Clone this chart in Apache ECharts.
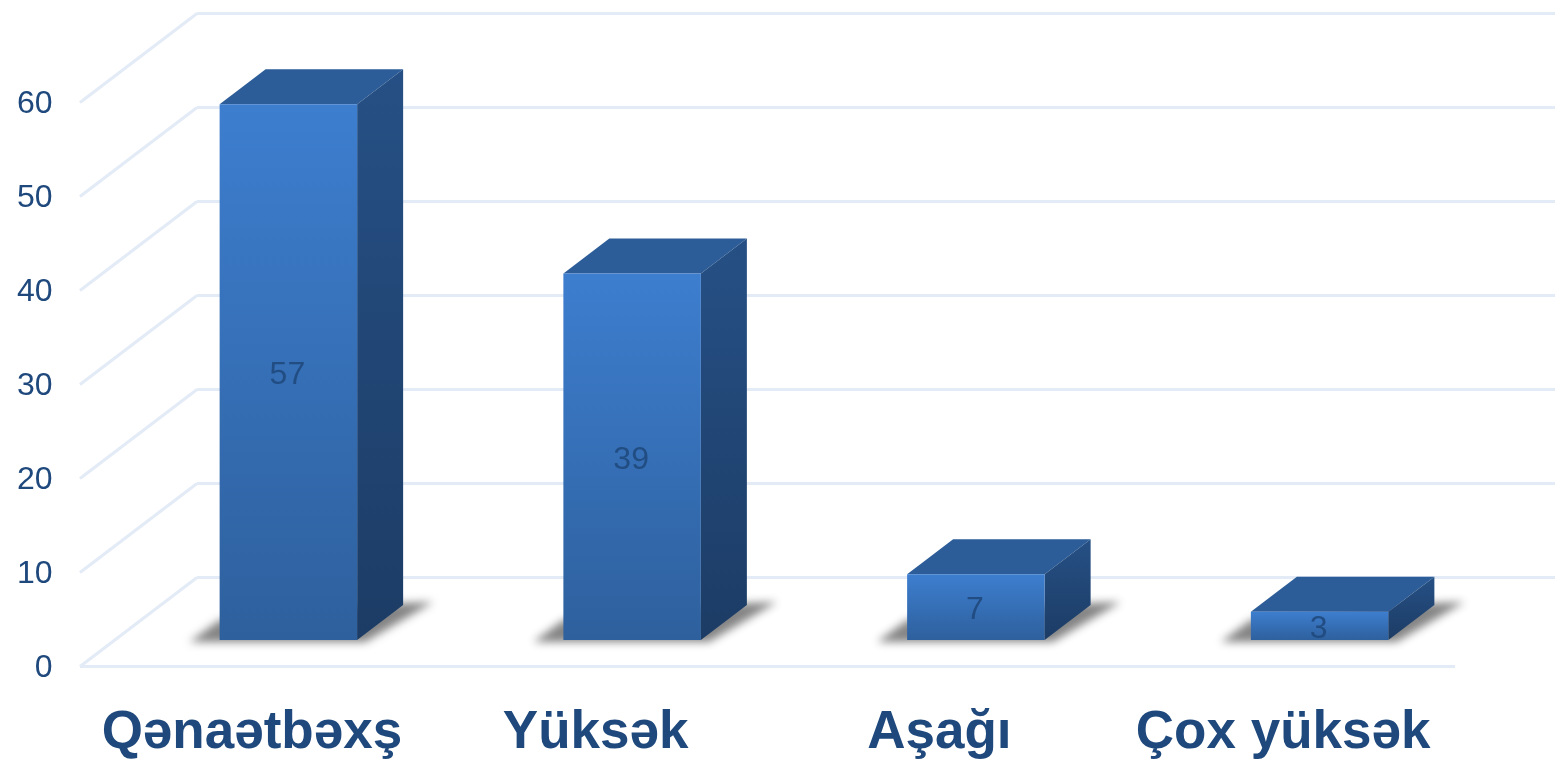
<!DOCTYPE html>
<html>
<head>
<meta charset="utf-8">
<title>Chart</title>
<style>
html,body {margin:0;padding:0;background:#fff;}
#chart {width:1555px;height:761px;}
</style>
</head>
<body>
<div id="chart"></div>
<script src="https://cdn.jsdelivr.net/npm/echarts@6/dist/echarts.min.js"></script>
<script>
var categories = ['Qənaətbəxş', 'Yüksək', 'Aşağı', 'Çox yüksək'];
var values = [57, 39, 7, 3];
var yTicks = [0, 10, 20, 30, 40, 50, 60];

var textColor = '#1f497d';
var lineColor = '#e3ebf7';
// wall depth, bar offset from the front edge, bar depth (px)
var wallDx = 117, wallDy = -89;
var baseDx = 36.5, baseDy = -26.5;
var depthDx = 46, depthDy = -35;
var barWidth = 137.5;
// floor shadow shape is drawn off canvas so that only its blur lands on the chart
var offCanvas = 3000;

function vGrad(c0, c1) {
    return new echarts.graphic.LinearGradient(0, 0, 0, 1, [
        {offset: 0, color: c0},
        {offset: 1, color: c1}
    ]);
}

function renderWall(params, api) {
    var v = api.value(0);
    var y = api.coord([0, v])[1];
    var x0 = params.coordSys.x;
    var x1 = x0 + params.coordSys.width;
    var style = {stroke: lineColor, lineWidth: 3, fill: null};
    var kids = [
        {type: 'line', shape: {x1: x0, y1: y, x2: x0 + wallDx, y2: y + wallDy}, style: style},
        {type: 'line', shape: {x1: x0 + wallDx, y1: y + wallDy, x2: 1555, y2: y + wallDy}, style: style}
    ];
    if (v === 0) {
        kids.push({type: 'line', shape: {x1: x0, y1: y, x2: x1, y2: y}, style: style});
    }
    return {type: 'group', children: kids};
}

function renderBar(params, api) {
    var p = api.coord([api.value(0), api.value(1)]);
    var b = api.coord([api.value(0), 0]);
    var xl = p[0] + baseDx - barWidth / 2;
    var xr = xl + barWidth;
    var yt = p[1] + baseDy;
    var yb = b[1] + baseDy;
    return {type: 'group', children: [
        {type: 'polygon', shape: {points: [
            [xl - 30 - offCanvas, yb + 2], [xl - offCanvas, yb - 20],
            [xr + depthDx - offCanvas, yb + depthDy - 2],
            [xr + depthDx + 30 - offCanvas, yb + depthDy - 3],
            [xr + 8 - offCanvas, yb + 2]
        ]}, style: {
            fill: '#000',
            shadowColor: 'rgba(110,110,110,0.85)',
            shadowBlur: 8,
            shadowOffsetX: offCanvas
        }},
        {type: 'polygon', shape: {points: [
            [xl, yt], [xr, yt], [xr + depthDx, yt + depthDy], [xl + depthDx, yt + depthDy]
        ]}, style: {fill: '#2c5d98'}},
        {type: 'polygon', shape: {points: [
            [xr, yt], [xr + depthDx, yt + depthDy], [xr + depthDx, yb + depthDy], [xr, yb]
        ]}, style: {fill: vGrad('#265085', '#1c3c65')}},
        {type: 'rect', shape: {x: xl, y: yt, width: barWidth, height: yb - yt},
            style: {fill: vGrad('#3d7ecf', '#2e609d')}},
        {type: 'text', style: {
            x: (xl + xr) / 2 - 1, y: (yt + yb) / 2 + 3.5,
            text: String(api.value(1)),
            fill: textColor, opacity: 0.9,
            font: '32px "Liberation Sans"',
            align: 'center', verticalAlign: 'middle'
        }}
    ]};
}

var chart = echarts.init(document.getElementById('chart'), null, {renderer: 'canvas'});
chart.setOption({
    animation: false,
    backgroundColor: '#fff',
    grid: {left: 80, width: 1375, top: 102.5, bottom: 94.5},
    xAxis: {
        type: 'category',
        data: categories,
        axisLine: {show: false},
        axisTick: {show: false},
        axisLabel: {
            interval: 0, margin: 40,
            color: textColor,
            fontFamily: 'Liberation Sans', fontWeight: 'bold', fontSize: 53
        }
    },
    yAxis: {
        type: 'value',
        min: 0, max: 60, interval: 10,
        axisLine: {show: false},
        axisTick: {show: false},
        splitLine: {show: false},
        axisLabel: {
            margin: 27.5,
            verticalAlign: 'top',
            lineHeight: 4,
            color: textColor,
            fontFamily: 'Liberation Sans', fontSize: 32
        }
    },
    series: [{
        type: 'custom',
        renderItem: renderWall,
        data: yTicks.map(function (t) { return [t]; }),
        encode: {y: 0},
        silent: true,
        z: 1
    }, {
        type: 'custom',
        renderItem: renderBar,
        data: values.map(function (v, i) { return [i, v]; }),
        encode: {x: 0, y: 1},
        z: 2
    }]
});
</script>
</body>
</html>
